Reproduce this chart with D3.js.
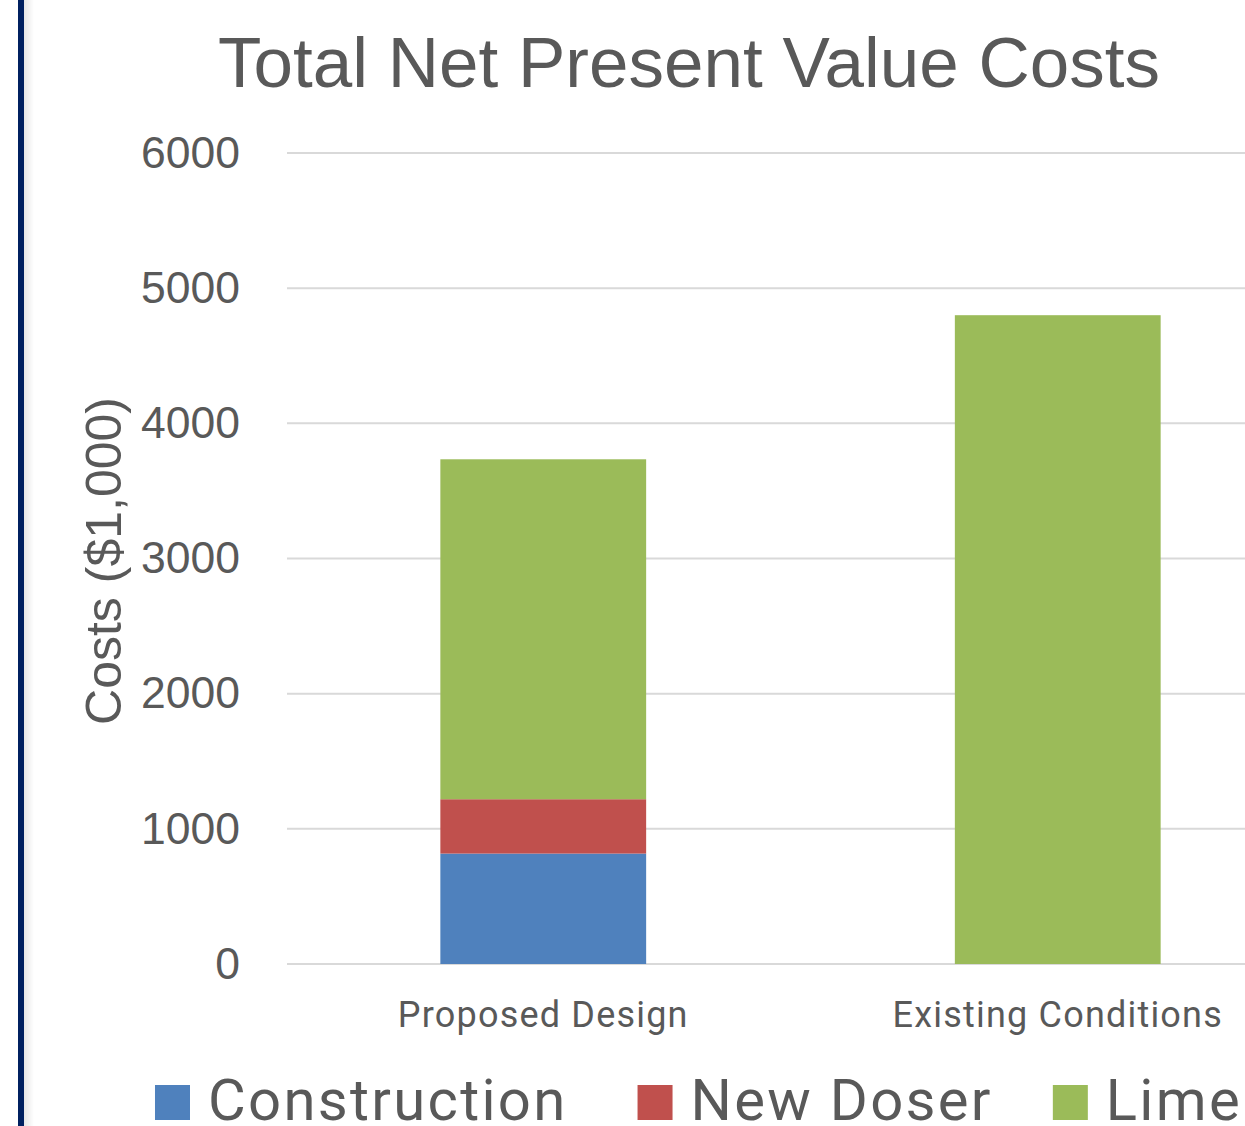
<!DOCTYPE html>
<html>
<head>
<meta charset="utf-8">
<script src="https://cdn.jsdelivr.net/npm/d3@7"></script>
<style>
  body { margin: 0; background: #fff; }
  svg { display: block; }
</style>
</head>
<body>
<svg id="chart" width="1245" height="1126"></svg>
<script>
// data
const categories = ["Proposed Design", "Existing Conditions"];
const seriesNames = ["Construction", "New Doser", "Lime"];
const construction = [817, 0];
const newDoser = [402, 0];
const lime = [2515, 4800];
const yTicks = [0, 1000, 2000, 3000, 4000, 5000, 6000];
const colors = ["#4F81BD", "#C0504D", "#9BBB59"];

const svg = d3.select("#chart");
const textColor = "#595959";

// left border line with faint shadow
const defs = svg.append("defs");
const grad = defs.append("linearGradient").attr("id", "shade");
grad.append("stop").attr("offset", "0%").attr("stop-color", "#e6e6e6");
grad.append("stop").attr("offset", "100%").attr("stop-color", "#ffffff");
svg.append("rect").attr("x", 24).attr("y", 0).attr("width", 10).attr("height", 1126).attr("fill", "url(#shade)");
svg.append("rect").attr("x", 18).attr("y", 0).attr("width", 6).attr("height", 1126).attr("fill", "#002060");

const y = d3.scaleLinear().domain([0, 6000]).range([964, 153]);
const x = d3.scaleBand().domain(categories).range([286, 1315])
  .paddingInner(0.6).paddingOuter(0.3);

// title
svg.append("text")
  .attr("x", 689).attr("y", 87)
  .attr("text-anchor", "middle")
  .style("font-family", "'Liberation Sans', Arial, sans-serif")
  .style("font-size", "71px")
  .style("fill", textColor)
  .text("Total Net Present Value Costs");

// gridlines
svg.append("g").selectAll("line")
  .data(yTicks)
  .join("line")
  .attr("x1", 287).attr("x2", 1245)
  .attr("y1", d => y(d)).attr("y2", d => y(d))
  .attr("stroke", "#d9d9d9").attr("stroke-width", 2);

// y axis labels
const yAxis = svg.append("g")
  .attr("transform", "translate(240,0)")
  .call(d3.axisLeft(y).tickValues(yTicks).tickFormat(d3.format("d")).tickSize(0).tickPadding(0));
yAxis.select(".domain").remove();
yAxis.selectAll("text")
  .style("font-family", "'Liberation Sans', Arial, sans-serif")
  .style("font-size", "44.5px")
  .style("fill", textColor);

// y axis title
svg.append("text")
  .attr("transform", "translate(121,561) rotate(-90)")
  .attr("text-anchor", "middle")
  .style("font-family", "'Liberation Sans', Arial, sans-serif")
  .style("font-size", "50px")
  .style("fill", textColor)
  .text("Costs ($1,000)");

// stacked bars
const rows = categories.map((c, i) => ({
  category: c,
  "Construction": construction[i],
  "New Doser": newDoser[i],
  "Lime": lime[i]
}));
const stacked = d3.stack().keys(seriesNames)(rows);

svg.append("g").selectAll("g")
  .data(stacked)
  .join("g")
  .attr("fill", (d, i) => colors[i])
  .selectAll("rect")
  .data(d => d.filter(s => s[1] - s[0] > 0))
  .join("rect")
  .attr("x", d => x(d.data.category))
  .attr("width", x.bandwidth())
  .attr("y", d => y(d[1]))
  .attr("height", d => y(d[0]) - y(d[1]));

// category labels
svg.append("g").selectAll("text")
  .data(categories)
  .join("text")
  .attr("x", d => x(d) + x.bandwidth() / 2)
  .attr("y", 1027)
  .attr("text-anchor", "middle")
  .style("font-family", "Roboto, sans-serif")
  .style("font-size", "36px")
  .style("letter-spacing", "1.2px")
  .style("fill", textColor)
  .text(d => d);

// legend
const legend = svg.append("g");
const items = legend.selectAll("g")
  .data(seriesNames)
  .join("g");
items.append("rect")
  .attr("width", 35).attr("height", 35)
  .attr("y", 1085)
  .attr("fill", (d, i) => colors[i]);
items.append("text")
  .attr("x", 53).attr("y", 1120)
  .style("font-family", "Roboto, sans-serif")
  .style("font-size", "58px")
  .style("letter-spacing", "2.3px")
  .style("fill", textColor)
  .text(d => d);

const gaps = [70, 60];
let cursor = 0;
const offsets = [];
items.each(function (d, i) {
  const w = 53 + d3.select(this).select("text").node().getComputedTextLength();
  offsets.push(cursor);
  cursor += w + (gaps[i] || 0);
});
const startX = 698.5 - cursor / 2;
items.attr("transform", (d, i) => `translate(${startX + offsets[i]},0)`);
</script>
</body>
</html>
